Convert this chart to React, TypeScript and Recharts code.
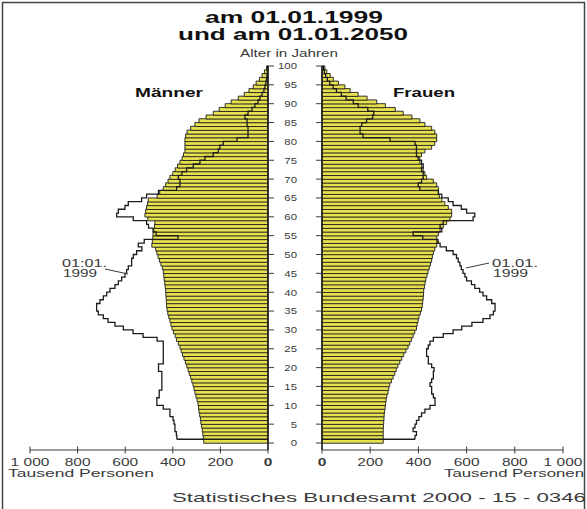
import React from 'react';
import { ComposedChart, Bar, Line, XAxis, YAxis, ReferenceLine } from 'recharts';

// Tausend Personen je Altersjahr, Index = Alter 0..99
const maenner2050 = [
  270, 272, 274, 276, 279, 282, 284, 287, 290, 292,
  294, 298, 303, 307, 311, 315, 320, 325, 331, 336,
  341, 347, 353, 359, 365, 370, 377, 384, 390, 397,
  403, 408, 412, 417, 421, 424, 426, 427, 428, 429,
  430, 432, 434, 436, 438, 440, 444, 450, 456, 462,
  467, 472, 488, 486, 484, 483, 480, 477, 475, 505,
  517, 514, 510, 506, 503, 466, 455, 440, 430, 420,
  412, 400, 390, 380, 370, 361, 355, 349, 349, 349,
  349, 346, 340, 325, 307, 290, 260, 230, 205, 180,
  155, 125, 100, 80, 62, 50, 36, 25, 15, 6,
];
const maenner1999 = [
  383, 385, 391, 391, 395, 399, 412, 412, 440, 467,
  467, 457, 457, 446, 446, 446, 446, 446, 460, 460,
  440, 440, 440, 440, 440, 440, 466, 525, 567, 608,
  643, 672, 692, 713, 720, 720, 706, 692, 678, 664,
  643, 629, 615, 601, 594, 587, 573, 573, 566, 552,
  530, 545, 520, 378, 470, 483, 502, 510, 566, 636,
  629, 601, 587, 531, 510, 460, 384, 370, 370, 377,
  362, 342, 314, 286, 265, 230, 209, 202, 188, 130,
  84, 84, 84, 88, 88, 97, 84, 67, 55, 42,
  34, 25, 17, 13, 9, 6, 4, 3, 2, 1,
];
const frauen2050 = [
  254, 254, 254, 254, 255, 256, 257, 258, 260, 262,
  264, 266, 269, 274, 277, 281, 288, 295, 302, 308,
  315, 323, 331, 339, 348, 357, 364, 371, 378, 385,
  392, 395, 399, 402, 408, 413, 416, 418, 420, 421,
  422, 425, 428, 431, 436, 440, 445, 450, 455, 458,
  462, 468, 476, 483, 476, 483, 490, 503, 517, 531,
  538, 538, 524, 510, 497, 487, 483, 483, 476, 462,
  434, 427, 420, 413, 406, 406, 413, 427, 455, 468,
  476, 476, 468, 455, 427, 406, 373, 337, 304, 263,
  227, 187, 150, 117, 95, 68, 47, 34, 20, 12,
];
const frauen1999 = [
  386, 392, 378, 386, 392, 402, 413, 427, 448, 469,
  469, 462, 455, 455, 448, 455, 462, 462, 465, 455,
  441, 441, 434, 434, 441, 448, 462, 503, 544, 580,
  622, 668, 697, 711, 718, 718, 704, 683, 668, 654,
  634, 620, 600, 593, 585, 578, 572, 565, 558, 544,
  516, 490, 477, 418, 378, 497, 490, 503, 627, 634,
  600, 578, 544, 524, 497, 483, 406, 399, 413, 420,
  420, 413, 420, 413, 399, 392, 392, 392, 386, 282,
  170, 158, 158, 165, 185, 210, 215, 190, 150, 130,
  100, 80, 60, 46, 32, 22, 15, 10, 6, 4,
];

const personenTicks = [0, 200, 400, 600, 800, 1000];
// 100 sits on the top edge of the age-99 band
const alterTicks = [0, 5, 10, 15, 20, 25, 30, 35, 40, 45, 50, 55, 60, 65, 70, 75, 80, 85, 90, 95, 99];

const rows = maenner2050.map((m, age) => ({
  age,
  m2050: m,
  m1999: maenner1999[age],
  f2050: frauen2050[age],
  f1999: frauen1999[age],
}));

const W = 587;
const H = 509;
const TOP = 66;
const AXIS_Y = 450;
const GAP = 7;
const LEFT_ZERO = 268;
const RIGHT_ZERO = 322;
const BAND = (AXIS_Y - GAP - TOP) / 100;
const FONT = '"Liberation Sans", Arial, Helvetica, sans-serif';
const YELLOW = '#e8e14f';
const INK = '#1c1c1c';
const GREY = '#3a3a3a';

// second age axis, shifted half a band down, so the 1999 step line
// puts its corners on the age boundaries
const SHIFT_PAD = { top: -BAND / 2, bottom: GAP + BAND / 2 };

const PersonenTick = ({ x, y, payload }: any) => {
  const v = payload.value;
  return (
    <g>
      <line x1={x} x2={x} y1={y - 3.5} y2={y + 3.5} stroke={GREY} strokeWidth={1} />
      <text
        transform={`translate(${x},${y + 16}) scale(1.55,1)`}
        textAnchor="middle"
        fontSize={10}
        fontFamily={FONT}
        fontWeight={v === 0 ? 700 : 400}
        fill={GREY}
      >
        {v === 1000 ? '1 000' : v}
      </text>
    </g>
  );
};

const AlterTick = ({ x, y, payload }: any) => {
  const v = payload.value;
  if (v % 5 !== 0 && v !== 99) return <g />;
  const top = v === 99;
  const yy = top ? y - BAND / 2 : y + BAND / 2;
  const w = RIGHT_ZERO - LEFT_ZERO;
  return (
    <g>
      <line x1={x - w} x2={x - w + 6} y1={yy} y2={yy} stroke={GREY} strokeWidth={1} />
      <line x1={x - 6} x2={x} y1={yy} y2={yy} stroke={GREY} strokeWidth={1} />
      <text
        transform={`translate(${x - 25},${yy + 3.4}) scale(1.2,1)`}
        textAnchor="end"
        fontSize={9.5}
        fontFamily={FONT}
        fill={GREY}
      >
        {top ? 100 : v}
      </text>
    </g>
  );
};

const Txt = ({ x, y, len, size, bold, anchor, children }: any) => (
  <text
    x={x}
    y={y}
    textLength={len}
    lengthAdjust="spacingAndGlyphs"
    fontSize={size}
    fontWeight={bold ? 700 : 400}
    textAnchor={anchor || 'start'}
    fontFamily={FONT}
    fill={bold ? '#111' : GREY}
  >
    {children}
  </text>
);

export default function App() {
  return (
    <div style={{ position: 'absolute', left: 0, top: 0, width: W, height: H, background: '#fff', overflow: 'hidden' }}>
      <div style={{ position: 'absolute', left: 0, top: 0 }}>
        <ComposedChart
          layout="vertical"
          width={LEFT_ZERO + 12}
          height={H}
          data={rows}
          margin={{ top: TOP, right: 12, bottom: 0, left: 30 }}
          barCategoryGap={0}
          barGap={0}
        >
          <XAxis
            type="number"
            domain={[0, 1000]}
            reversed
            ticks={personenTicks}
            interval={0}
            height={H - AXIS_Y}
            tickSize={0}
            tickMargin={0}
            tickLine={false}
            axisLine={{ stroke: GREY, strokeWidth: 1 }}
            tick={(p: any) => <PersonenTick {...p} />}
          />
          <YAxis type="category" dataKey="age" reversed hide padding={{ top: 0, bottom: GAP }} />
          <YAxis yAxisId="shift" type="category" dataKey="age" reversed hide padding={SHIFT_PAD} />
          <Bar dataKey="m2050" fill={YELLOW} stroke={INK} strokeWidth={0.9} isAnimationActive={false} />
          <Line
            yAxisId="shift"
            dataKey="m1999"
            type="stepBefore"
            stroke={INK}
            strokeWidth={1.3}
            dot={false}
            activeDot={false}
            isAnimationActive={false}
          />
          <ReferenceLine
            yAxisId="shift"
            segment={[{ x: 0, y: 0 }, { x: maenner1999[0], y: 0 }]}
            stroke={INK}
            strokeWidth={1.3}
          />
          <ReferenceLine x={0} stroke={INK} strokeWidth={1.6} />
        </ComposedChart>
      </div>

      <div style={{ position: 'absolute', left: LEFT_ZERO, top: 0 }}>
        <ComposedChart
          layout="vertical"
          width={W - LEFT_ZERO}
          height={H}
          data={rows}
          margin={{ top: TOP, right: 24, bottom: 0, left: 0 }}
          barCategoryGap={0}
          barGap={0}
        >
          <XAxis
            type="number"
            domain={[0, 1000]}
            ticks={personenTicks}
            interval={0}
            height={H - AXIS_Y}
            tickSize={0}
            tickMargin={0}
            tickLine={false}
            axisLine={{ stroke: GREY, strokeWidth: 1 }}
            tick={(p: any) => <PersonenTick {...p} />}
          />
          <YAxis
            type="category"
            dataKey="age"
            reversed
            orientation="left"
            width={RIGHT_ZERO - LEFT_ZERO}
            padding={{ top: 0, bottom: GAP }}
            ticks={alterTicks}
            interval={0}
            tickSize={0}
            tickMargin={0}
            tickLine={false}
            axisLine={{ stroke: INK, strokeWidth: 1.6 }}
            tick={(p: any) => <AlterTick {...p} />}
          />
          <YAxis yAxisId="shift" type="category" dataKey="age" reversed hide padding={SHIFT_PAD} />
          <Bar dataKey="f2050" fill={YELLOW} stroke={INK} strokeWidth={0.9} isAnimationActive={false} />
          <Line
            yAxisId="shift"
            dataKey="f1999"
            type="stepBefore"
            stroke={INK}
            strokeWidth={1.3}
            dot={false}
            activeDot={false}
            isAnimationActive={false}
          />
          <ReferenceLine
            yAxisId="shift"
            segment={[{ x: 0, y: 0 }, { x: frauen1999[0], y: 0 }]}
            stroke={INK}
            strokeWidth={1.3}
          />
        </ComposedChart>
      </div>

      <svg width={W} height={H} style={{ position: 'absolute', left: 0, top: 0, pointerEvents: 'none' }}>
        <rect x={2.5} y={2.5} width={582} height={530} fill="none" stroke="#444" strokeWidth={1.5} />
        <Txt x={294} y={23} len={178} size={16} bold anchor="middle">am 01.01.1999</Txt>
        <Txt x={293} y={40} len={230} size={16} bold anchor="middle">und am 01.01.2050</Txt>
        <Txt x={289} y={57} len={98} size={10} anchor="middle">Alter in Jahren</Txt>
        <Txt x={135} y={97} len={68} size={12.5} bold>Männer</Txt>
        <Txt x={393} y={97} len={62} size={12.5} bold>Frauen</Txt>

        <Txt x={62} y={267} len={45} size={10}>01:01.</Txt>
        <Txt x={63} y={277} len={34} size={10}>1999</Txt>
        <line x1={105} y1={269} x2={128} y2={274} stroke={GREY} strokeWidth={1} />
        <Txt x={492} y={267} len={46} size={10}>01.01.</Txt>
        <Txt x={493} y={277} len={35} size={10}>1999</Txt>
        <line x1={466} y1={268} x2={489} y2={263} stroke={GREY} strokeWidth={1} />

        <Txt x={8} y={477} len={146} size={10}>Tausend Personen</Txt>
        <Txt x={584} y={477} len={140} size={10} anchor="end">Tausend Personen</Txt>
        <Txt x={172} y={502} len={414} size={13}>Statistisches Bundesamt 2000 - 15 - 0346</Txt>
      </svg>
    </div>
  );
}
